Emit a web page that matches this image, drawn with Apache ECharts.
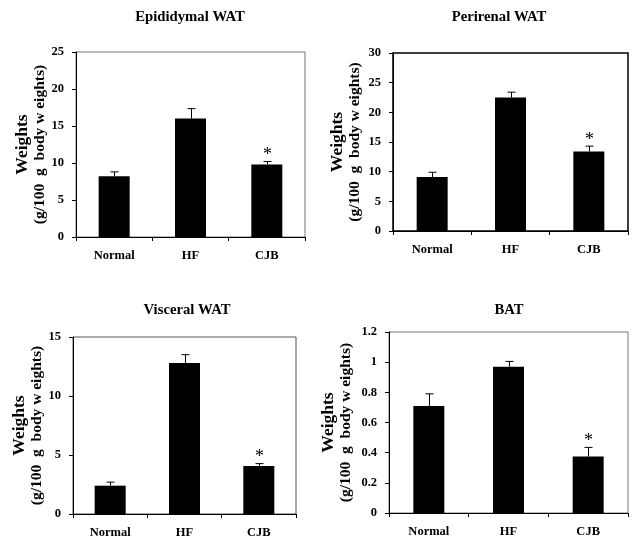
<!DOCTYPE html>
<html>
<head>
<meta charset="utf-8">
<script src="https://cdn.jsdelivr.net/npm/echarts@6/dist/echarts.min.js"></script>
<style>
html,body{margin:0;padding:0;background:#fff;}
#chart{width:632px;height:542px;}
</style>
</head>
<body>
<div id="chart"></div>
<script>
var categories = ['Normal', 'HF', 'CJB'];
var panelTitles = ['Epididymal WAT', 'Perirenal WAT', 'Visceral WAT', 'BAT'];

var epididymal = [8.2, 16.0, 9.8];
var epididymalErr = [0.6, 1.35, 0.4];
var perirenal = [9.1, 22.5, 13.4];
var perirenalErr = [0.8, 0.9, 0.9];
var visceral = [2.4, 12.8, 4.07];
var visceralErr = [0.3, 0.7, 0.2];
var bat = [0.71, 0.97, 0.375];
var batErr = [0.08, 0.035, 0.06];
var significance = ['', '', '*'];

var yMax = [25, 30, 15, 1.2];
var yInterval = [5, 5, 5, 0.2];

var means = [epididymal, perirenal, visceral, bat];
var errs = [epididymalErr, perirenalErr, visceralErr, batErr];

var grids = [
  {left: 76, top: 52, width: 229, height: 185},
  {left: 393, top: 53, width: 235, height: 178},
  {left: 73, top: 337, width: 223, height: 177},
  {left: 389, top: 332, width: 239, height: 181}
];
var titleX = [190, 499, 187, 509];
var titleY = [10, 10, 303, 303];
var nameGaps = [26, 30, 21, 35];
var borderColors = ['#777', '#000', '#555', '#777'];

var FONT = '"Liberation Serif", "Times New Roman", serif';

var option = {
  backgroundColor: '#fff',
  animation: false,
  title: panelTitles.map(function (t, i) {
    return {
      text: t, left: titleX[i], top: titleY[i], textAlign: 'center', padding: 0,
      textStyle: {fontFamily: FONT, fontWeight: 'bold', fontSize: 14.7, color: '#000'}
    };
  }),
  grid: grids.map(function (g, i) {
    return Object.assign({show: true, borderColor: borderColors[i], borderWidth: i === 1 ? 1.5 : 1, backgroundColor: 'transparent'}, g);
  }),
  xAxis: grids.map(function (g, i) {
    return {
      type: 'category', gridIndex: i, data: categories,
      axisLine: {lineStyle: {color: '#000', width: 1}},
      axisTick: {show: true, length: 4, lineStyle: {color: '#000'}},
      axisLabel: {margin: 12, color: '#000', fontFamily: FONT, fontWeight: 'bold', fontSize: 12.5}
    };
  }),
  yAxis: grids.map(function (g, i) {
    return {
      type: 'value', gridIndex: i, min: 0, max: yMax[i], interval: yInterval[i],
      name: '{a|Weights}\n{b|(g/100  g  body w eights)}',
      nameLocation: 'middle', nameRotate: 90, nameGap: nameGaps[i],
      nameTextStyle: {
        color: '#000', fontFamily: FONT, fontWeight: 'bold', align: 'center',
        rich: {
          a: {fontFamily: FONT, fontWeight: 'bold', fontSize: 17.5, color: '#000', lineHeight: 17, align: 'center'},
          b: {fontFamily: FONT, fontWeight: 'bold', fontSize: 15.5, color: '#000', lineHeight: 17, align: 'center'}
        }
      },
      axisLine: {show: true, lineStyle: {color: '#000', width: 1}},
      axisTick: {show: true, length: 4, lineStyle: {color: '#000'}},
      splitLine: {show: false},
      axisLabel: {margin: 12, color: '#000', fontFamily: FONT, fontWeight: 'bold', fontSize: 12.5}
    };
  }),
  series: []
};

means.forEach(function (m, i) {
  option.series.push({
    type: 'bar', xAxisIndex: i, yAxisIndex: i, data: m,
    barWidth: 31, itemStyle: {color: '#000'}, z: 2
  });
  option.series.push({
    type: 'custom', xAxisIndex: i, yAxisIndex: i, z: 3,
    data: m.map(function (v, k) { return [k, v, v + errs[i][k], significance[k]]; }),
    renderItem: function (params, api) {
      var base = api.coord([api.value(0), api.value(1)]);
      var top = api.coord([api.value(0), api.value(2)]);
      var x = Math.round(base[0]) + 0.5;
      var children = [
        {type: 'line', shape: {x1: x, y1: base[1], x2: x, y2: top[1]}, style: {stroke: '#000', lineWidth: 1}},
        {type: 'line', shape: {x1: x - 4, y1: top[1], x2: x + 4, y2: top[1]}, style: {stroke: '#000', lineWidth: 1}}
      ];
      var sig = api.value(3);
      if (sig) {
        children.push({
          type: 'text',
          style: {text: sig, x: x, y: top[1] + 3, align: 'center', verticalAlign: 'bottom',
                  font: '18px ' + FONT, fill: '#000'}
        });
      }
      return {type: 'group', children: children};
    }
  });
});

var chart = echarts.init(document.getElementById('chart'), null, {renderer: 'canvas'});
chart.setOption(option);
</script>
</body>
</html>
